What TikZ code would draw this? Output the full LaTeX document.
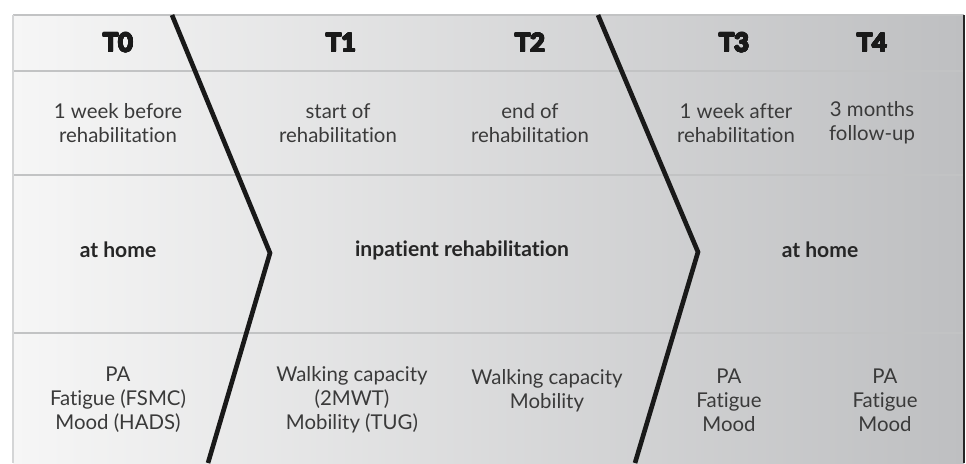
\documentclass[tikz,border=0pt]{standalone}
\usepackage{fontspec}
\setmainfont{Lato}[Ligatures={NoCommon,NoRequired,NoContextual}]
\usepackage{tikz}
\usepackage[copies]{contour}
\contourlength{0.55pt}
\definecolor{paneleft}{HTML}{F6F6F6}
\definecolor{panemid}{HTML}{DEDFE0}
\definecolor{paneright}{HTML}{BEBFC1}
\definecolor{rulegray}{HTML}{C2C3C4}
\definecolor{textgray}{HTML}{3A3A3A}
\definecolor{headink}{HTML}{1A1A1A}
\newcommand{\tpoint}[1]{\contour[32]{headink}{#1}}

\begin{document}
\begin{tikzpicture}[x=0.025cm,y=-0.025cm,
  every node/.style={align=center,text=textgray,inner sep=0pt,
    font=\fontsize{14.5}{17}\selectfont},
  head/.style={font=\bfseries\fontsize{18}{20}\selectfont,text=headink},
  phase/.style={font=\bfseries\fontsize{15}{18}\selectfont,text=black!85},
  rowline/.style={draw=rulegray,line width=1pt},
  chevron/.style={draw=black!90,line width=3.3pt,line join=miter}
]
\useasboundingbox (0,0) rectangle (966,463);
\shade[left color=paneleft,middle color=panemid,right color=paneright]
  (13,15) rectangle (964,463);

% row separators and frame
\draw[rowline] (13,15) -- (964,15);
\draw[rowline] (13,71) -- (964,71);
\draw[rowline] (13,175) -- (964,175);
\draw[rowline] (13,333) -- (964,333);
\draw[draw=rulegray!70,line width=0.8pt] (13,15) -- (13,463);
\draw[draw=black!85,line width=1.6pt] (964,15) -- (964,463);

% phase chevrons
\coordinate (ctopA) at (172,15);
\coordinate (ctipA) at (270,253);
\coordinate (cbotA) at (208,463);
\coordinate (ctopB) at (598,15);
\coordinate (ctipB) at (698,252);
\coordinate (cbotB) at (635,463);
\draw[chevron] (ctopA) -- (ctipA) -- (cbotA);
\draw[chevron] (ctopB) -- (ctipB) -- (cbotB);

% time points
\node[head] (tzero) at (118,43) {\tpoint{T0}};
\node[head] (tone) at (341,43) {\tpoint{T1}};
\node[head] (ttwo) at (530,43) {\tpoint{T2}};
\node[head] (tthree) at (734,43) {\tpoint{T3}};
\node[head] (tfour) at (872,43) {\tpoint{T4}};

% timing
\node (whenzero) at (118,123) {1 week before\\rehabilitation};
\node (whenone) at (338,123) {start of\\rehabilitation};
\node (whentwo) at (530,123) {end of\\rehabilitation};
\node (whenthree) at (736,123) {1 week after\\rehabilitation};
\node (whenfour) at (872,123) {3 months\\follow-up};

% setting
\node[phase] (homepre) at (118,250) {at home};
\node[phase] (inpatient) at (462,250) {inpatient rehabilitation};
\node[phase] (homepost) at (820,250) {at home};

% outcome measures
\node (measzero) at (118,400) {PA\\Fatigue (FSMC)\\Mood (HADS)};
\node (measone) at (352,400) {Walking capacity\\(2MWT)\\Mobility (TUG)};
\node[anchor=north] (meastwo) at (547,369) {Walking capacity\\Mobility};
\node (measthree) at (729,400) {PA\\Fatigue\\Mood};
\node (measfour) at (885,400) {PA\\Fatigue\\Mood};
\end{tikzpicture}
\end{document}
